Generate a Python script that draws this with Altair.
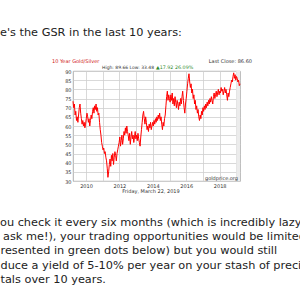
import altair as alt
import pandas as pd

# ---- data (gold/silver ratio, roughly two readings per month) ----
gsr_2009 = [73.5, 70, 72, 66, 68, 63, 65, 62, 66, 70, 72, 67, 64, 61, 63, 60, 62, 59, 61]
gsr_2010 = [64, 67, 65, 62, 64, 60, 63, 66, 64, 68, 70, 67, 71, 69, 72, 68, 70, 66, 67, 62, 58, 55, 51, 49]
gsr_2011 = [47, 48, 45, 46, 43, 41, 37, 32, 35, 39, 42, 38, 44, 41, 45, 39, 43, 46, 44, 41, 45, 47, 49, 51]
gsr_2012 = [54, 49, 52, 55, 50, 53, 57, 55, 59, 56, 60, 57, 55, 52, 56, 50, 54, 57, 53, 55, 51, 54, 57, 53]
gsr_2013 = [55, 52, 56, 53, 51, 49, 54, 58, 62, 66, 68, 64, 61, 65, 62, 58, 60, 57, 61, 59, 62, 58, 60, 62]
gsr_2014 = [60, 63, 61, 64, 62, 65, 63, 66, 64, 67, 63, 65, 61, 58, 62, 60, 64, 66, 71, 76, 79, 74, 77, 75]
gsr_2015 = [73, 77, 74, 78, 72, 75, 71, 76, 73, 70, 74, 72, 69, 73, 71, 75, 72, 76, 79, 74, 70, 67, 72, 75]
gsr_2016 = [79, 83, 86, 88.5, 84, 81, 83, 78, 80, 75, 77, 72, 74, 69, 71, 67, 69, 65, 63, 66, 64, 68, 66, 70]
gsr_2017 = [68, 71, 69, 72, 70, 73, 71, 74, 72, 75, 73, 76, 74, 72, 76, 78, 75, 77, 79, 76, 78, 80, 77, 79]
gsr_2018 = [78, 81, 79, 80, 77, 79, 81, 78, 80, 77, 74, 78, 76, 79, 81, 83, 85, 84, 87, 89, 86, 88, 85, 87]
gsr_2019 = [86, 84, 85, 82, 83]

start_date = "2009-03-22"
end_date = "2019-03-22"
year_lines = list(range(2010, 2020))

title_text = "10 Year Gold/Silver"
stats_text = "High: 89.66 Low: 33.48"
change_text = "\u25b217.92 26.09%"
close_text = "Last Close: 86.60"
date_text = "Friday, March 22, 2019"
source_text = "goldprice.org"

heading_line = "e's the GSR in the last 10 years:"
body_lines = [
    "ou check it every six months (which is incredibly lazy if you",
    "ask me!), your trading opportunities would be limited",
    "resented in green dots below) but you would still",
    "duce a yield of 5-10% per year on your stash of precious",
    "tals over 10 years.",
]

# ---- build tables ----
values = (gsr_2009 + gsr_2010 + gsr_2011 + gsr_2012 + gsr_2013 + gsr_2014
          + gsr_2015 + gsr_2016 + gsr_2017 + gsr_2018 + gsr_2019)
dates = pd.date_range(start_date, end_date, periods=len(values))
df = pd.DataFrame({"date": dates, "gsr": values})

PW, PH = 167, 110
LEFT, TOP = 73, 71
FONT = "DejaVu Sans"

xscale = alt.Scale(domain=[start_date, end_date])
yscale = alt.Scale(domain=[30, 90], nice=False, zero=False)

x_axis = alt.Axis(
    values=[alt.DateTime(year=y, month=1, date=1) for y in year_lines],
    labelExpr="year(datum.value) % 2 == 0 && year(datum.value) < 2019 ? timeFormat(datum.value, '%Y') : ''",
    title=None, ticks=False, domain=False, grid=True, gridColor="#cfcfcf", gridWidth=0.8,
    labelFontSize=5, labelFont=FONT, labelColor="#333", labelPadding=2, labelFlush=False,
)
y_axis = alt.Axis(
    values=list(range(30, 95, 5)), title=None, ticks=False, domain=False, grid=True,
    gridColor="#cfcfcf", gridWidth=0.8, labelFontSize=5, labelFont=FONT,
    labelColor="#333", labelPadding=2,
)

band_df = pd.DataFrame({"a": ["2019-01-01"], "b": [end_date]})
band = alt.Chart(band_df).mark_rect(color="#ececec").encode(
    x=alt.X("a:T", scale=xscale, axis=x_axis), x2="b:T"
)

line = alt.Chart(df).mark_line(color="#ff0000", strokeWidth=1).encode(
    x=alt.X("date:T", scale=xscale, axis=x_axis),
    y=alt.Y("gsr:Q", scale=yscale, axis=y_axis),
)


def label(txt, x, y, size=5, color="#333", align="left", weight="normal"):
    return alt.Chart(pd.DataFrame({"t": [txt]})).mark_text(
        align=align, baseline="middle", fontSize=size, font=FONT, color=color,
        fontWeight=weight,
    ).encode(x=alt.value(x), y=alt.value(y), text="t:N")


texts = [
    label(title_text, 52 - LEFT, 61 - TOP, color="#d01818"),
    label(stats_text, 102 - LEFT, 67.5 - TOP, size=4.5),
    label(change_text, 156 - LEFT, 67.5 - TOP, size=4.8, color="#2e8b2e"),
    label(close_text, 252 - LEFT, 61 - TOP, align="right"),
    label(date_text, 151 - LEFT, 191 - TOP, align="center"),
    label(source_text, 238 - LEFT, 178 - TOP, align="right"),
    label(heading_line, 0 - LEFT, 33 - TOP, size=11.3, color="#222"),
]
body_y = [222.7, 236.7, 251, 265.7, 280]
body_x = [0, 3, 0.5, 0.5, 0.5]
for txt, bx, by in zip(body_lines, body_x, body_y):
    texts.append(label(txt, bx - LEFT, by - TOP, size=11.3, color="#222"))

chart = alt.layer(band, line, *texts).properties(
    width=PW, height=PH,
    padding={"left": LEFT, "top": TOP, "right": 300 - LEFT - PW, "bottom": 300 - TOP - PH},
    autosize=alt.AutoSizeParams(type="none"),
    background="white",
).configure_view(stroke="#9a9a9a", strokeWidth=0.8)

chart.save("out.html", embed_options={"renderer": "svg", "actions": False})
